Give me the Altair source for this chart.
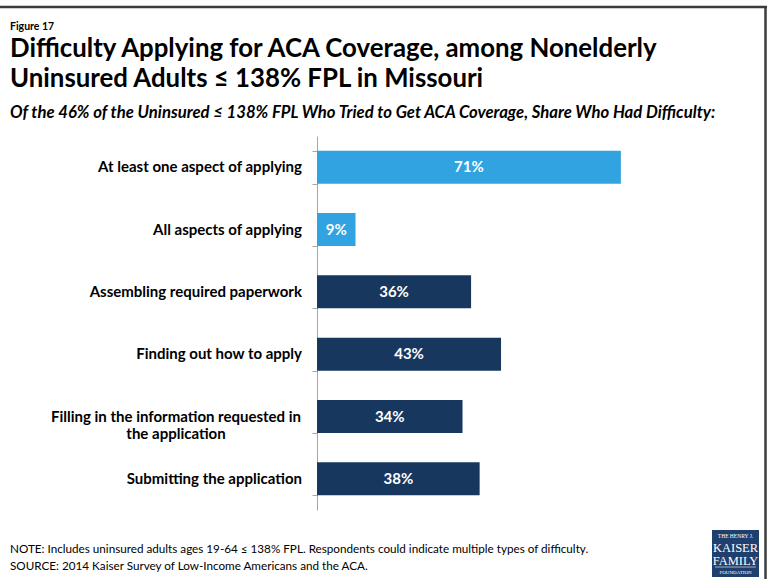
import altair as alt
import pandas as pd

categories = [
    "At least one aspect of applying",
    "All aspects of applying",
    "Assembling required paperwork",
    "Finding out how to apply",
    "Filling in the information requested in the application",
    "Submitting the application",
]
values = [71, 9, 36, 43, 34, 38]
groups = ["summary", "summary", "detail", "detail", "detail", "detail"]
value_labels = ["71%", "9%", "36%", "43%", "34%", "38%"]
cat_lines = [
    "At least one aspect of applying",
    "All aspects of applying",
    "Assembling required paperwork",
    "Finding out how to apply",
    "Filling in the information requested in|the application",
    "Submitting the application",
]
multi_line = [False, False, False, False, True, False]

FONT = "Lato"
OX, OY = 317, 136  # plot origin in page pixels

df = pd.DataFrame({"cat": categories, "value": values, "group": groups,
                   "lbl": value_labels, "catlbl": cat_lines, "multi": multi_line})

base = alt.Chart(df)

y_enc = alt.Y(
    "cat:N",
    sort=categories,
    title=None,
    scale=alt.Scale(paddingInner=0.47, paddingOuter=0.235),
    axis=alt.Axis(
        tickBand="extent",
        tickSize=5,
        tickColor="#A6A6A6",
        domainColor="#A6A6A6",
        labels=False,
    ),
)

bars = base.mark_bar().encode(
    y=y_enc,
    x=alt.X("value:Q", scale=alt.Scale(domain=[0, 100]), axis=None),
    color=alt.Color(
        "group:N",
        scale=alt.Scale(domain=["summary", "detail"], range=["#31A3E0", "#17375E"]),
        legend=None,
    ),
)

bar_text = base.transform_calculate(mid="datum.value / 2").mark_text(
    font=FONT, fontWeight="bold", fontSize=15, color="white", baseline="middle"
).encode(
    y=alt.Y("cat:N", sort=categories),
    x=alt.X("mid:Q"),
    text="lbl:N",
)

cat_single = base.transform_filter("!datum.multi").mark_text(
    font=FONT, fontWeight="bold", fontSize=15, color="#000000", align="right", baseline="middle"
).encode(
    y=alt.Y("cat:N", sort=categories),
    x=alt.value(-15),
    text="catlbl:N",
)

cat_multi = base.transform_filter("datum.multi").mark_text(
    font=FONT, fontWeight="bold", fontSize=15, color="#000000", align="center", baseline="middle",
    lineBreak="|", lineHeight=17,
).encode(
    y=alt.Y("cat:N", sort=categories),
    x=alt.value(-141),
    text="catlbl:N",
)


def note(text, x, y, size, weight="normal", style="normal", color="#000000", align="left", font=FONT):
    return alt.Chart(pd.DataFrame({"t": [text]})).mark_text(
        font=font, fontSize=size, fontWeight=weight, fontStyle=style, color=color,
        align=align, baseline="alphabetic",
    ).encode(x=alt.value(x - OX), y=alt.value(y - OY), text="t:N")


one = pd.DataFrame({"k": [0]})

border_top = alt.Chart(one).mark_rule(color="#3C3C3C", strokeWidth=2.5).encode(
    x=alt.value(0 - OX), x2=alt.value(767 - OX), y=alt.value(7 - OY)
)
border_right = alt.Chart(one).mark_rule(color="#3C3C3C", strokeWidth=2.5).encode(
    x=alt.value(765.5 - OX), y=alt.value(6 - OY), y2=alt.value(579 - OY)
)
logo_box = alt.Chart(one).mark_rect(color="#1F3F6E").encode(
    x=alt.value(712 - OX), x2=alt.value(759 - OX), y=alt.value(530 - OY), y2=alt.value(577 - OY)
)
logo_rule = alt.Chart(one).mark_rule(color="white", strokeWidth=0.6).encode(
    x=alt.value(715 - OX), x2=alt.value(756 - OX), y=alt.value(567 - OY)
)

serif = "Liberation Serif"
layers = [
    border_top,
    border_right,
    bars,
    bar_text,
    cat_single,
    cat_multi,
    note("Figure 17", 10, 30, 10.5, weight="bold"),
    note("Difficulty Applying for ACA Coverage, among Nonelderly", 10, 57, 25.8, weight="bold"),
    note("Uninsured Adults ≤ 138% FPL in Missouri", 10, 87, 25.8, weight="bold"),
    note("Of the 46% of the Uninsured ≤ 138% FPL Who Tried to Get ACA Coverage, Share Who Had Difficulty:",
         10, 118, 16.7, weight="bold", style="italic"),
    note("NOTE: Includes uninsured adults ages 19-64 ≤ 138% FPL. Respondents could indicate multiple types of difficulty.",
         10, 553, 11.7),
    note("SOURCE: 2014 Kaiser Survey of Low-Income Americans and the ACA.", 10, 570, 11.7),
    logo_box,
    logo_rule,
    note("THE HENRY J.", 735.5, 538, 5.5, color="white", align="center", font=serif),
    note("KAISER", 735.5, 552, 12.5, color="white", align="center", font=serif),
    note("FAMILY", 735.5, 564.5, 12.5, color="white", align="center", font=serif),
    note("FOUNDATION", 735.5, 574, 5, color="white", align="center", font=serif),
]

chart = alt.layer(*layers).properties(
    width=428,
    height=374,
    autosize=alt.AutoSizeParams(type="none"),
    padding={"left": OX, "top": OY, "right": 770 - OX - 428, "bottom": 579 - OY - 374},
    background="white",
).configure_view(stroke=None)

chart.save("out.html", embed_options={"renderer": "svg", "actions": False})
